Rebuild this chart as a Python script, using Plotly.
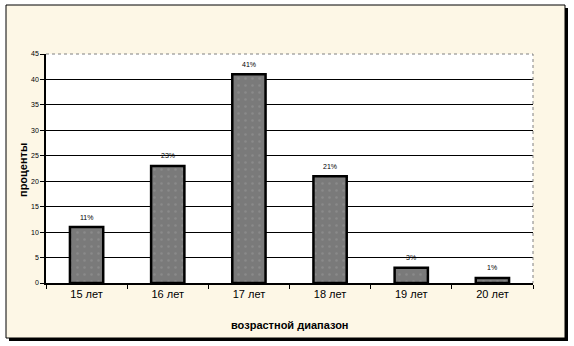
import plotly.graph_objects as go

categories = ["15 лет", "16 лет", "17 лет", "18 лет", "19 лет", "20 лет"]
values = [11, 23, 41, 21, 3, 1]
labels = ["11%", "23%", "41%", "21%", "3%", "1%"]
y_ticks = [0, 5, 10, 15, 20, 25, 30, 35, 40, 45]

W, H = 574, 346
L, R, T, B = 46, 41, 54, 63
pw, ph = W - L - R, H - T - B

def px(x):
    return (x - L) / pw

def py(y):
    return (H - B - y) / ph

fig = go.Figure()
fig.add_trace(go.Bar(
    x=categories, y=values, width=0.41,
    marker=dict(color="#7a7a7a", line=dict(color="black", width=2.5),
                pattern=dict(shape=".", fgcolor="#999999", bgcolor="#7a7a7a", size=7, solidity=0.1)),
    hoverinfo="skip",
))

annotations = []
for c, v, t in zip(categories, values, labels):
    annotations.append(dict(x=c, y=v, text=t, showarrow=False, yshift=10,
                            font=dict(family="Arial", size=7, color="black"), yanchor="middle"))
annotations.append(dict(x=px(23), y=py(170), xref="paper", yref="paper", text="<b>проценты</b>",
                        textangle=-90, showarrow=False, xanchor="center", yanchor="middle",
                        font=dict(family="Arial", size=11, color="black")))
annotations.append(dict(x=px(290), y=py(325), xref="paper", yref="paper", text="<b>возрастной диапазон</b>",
                        showarrow=False, xanchor="center", yanchor="middle",
                        font=dict(family="Arial", size=11, color="black")))

shapes = [
    dict(type="rect", xref="paper", yref="paper", x0=px(9), x1=px(568), y0=py(8), y1=py(341),
         fillcolor="black", line=dict(width=0), layer="below"),
    dict(type="rect", xref="paper", yref="paper", x0=px(6), x1=px(565), y0=py(5), y1=py(338),
         fillcolor="#fdf7e6", line=dict(color="black", width=1), layer="below"),
    dict(type="rect", xref="paper", yref="paper", x0=0, x1=1, y0=0, y1=1,
         fillcolor="white", line=dict(width=0), layer="below"),
    dict(type="path", xref="paper", yref="paper", path="M0,1 L1,1 L1,0",
         line=dict(color="#808080", width=1, dash="dot"), layer="above"),
]

fig.update_layout(
    width=W, height=H, margin=dict(l=L, r=R, t=T, b=B),
    paper_bgcolor="white", plot_bgcolor="white",
    showlegend=False, bargap=0.59,
    annotations=annotations, shapes=shapes,
    font=dict(family="Arial", color="black"),
)
fig.update_xaxes(
    showline=True, linecolor="black", linewidth=1.5,
    ticks="outside", tickson="boundaries", ticklen=4, tickcolor="black",
    tickfont=dict(family="Arial", size=11, color="black"),
    showgrid=False,
)
fig.update_yaxes(
    range=[0, 45], tickvals=y_ticks,
    showline=True, linecolor="black", linewidth=1.5,
    ticks="outside", ticklen=4, tickcolor="black",
    tickfont=dict(family="Arial", size=7, color="black"),
    showgrid=True, gridcolor="black", gridwidth=1, zeroline=False,
)

fig.write_html("out.html")
